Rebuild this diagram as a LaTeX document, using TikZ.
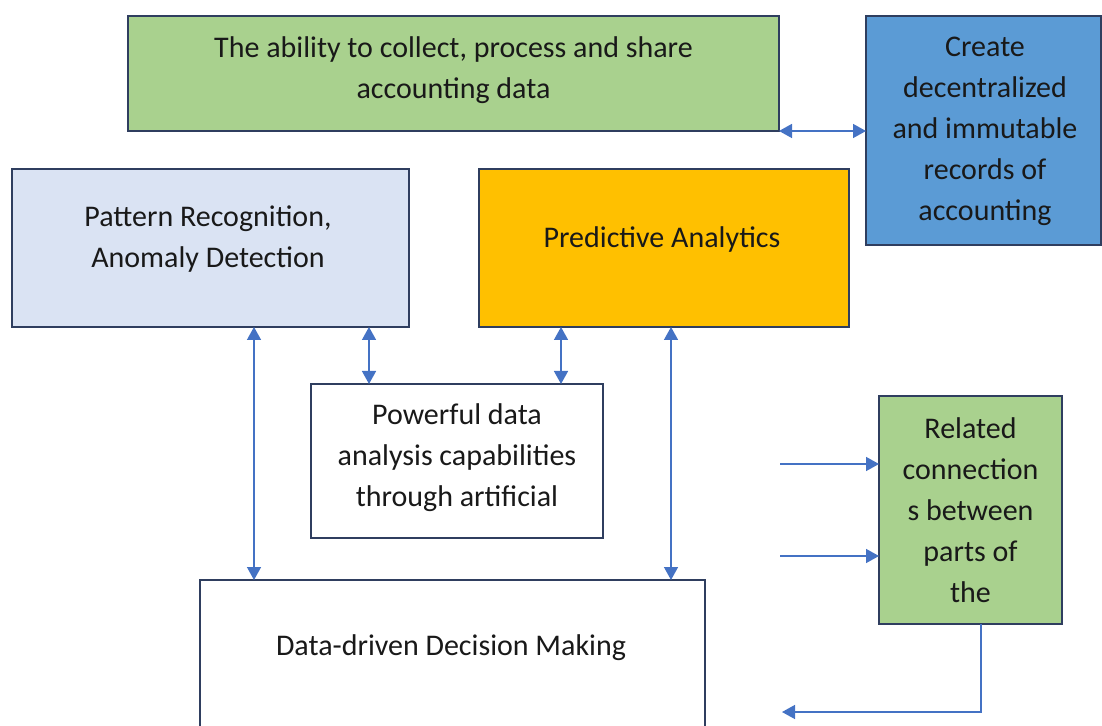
\documentclass[tikz,border=0pt]{standalone}
\usepackage{fontspec}
\setmainfont{Carlito}
\usetikzlibrary{arrows.meta, positioning}
\definecolor{BoxGreen}{HTML}{A9D18E}
\definecolor{BoxBlue}{HTML}{5B9BD5}
\definecolor{BoxPale}{HTML}{DAE3F3}
\definecolor{BoxGold}{HTML}{FFC000}
\definecolor{EdgeNavy}{RGB}{47, 62, 95}
\definecolor{LinkBlue}{HTML}{4472C4}
\tikzset{
  box/.style={draw=EdgeNavy, line width=0.75pt, inner sep=0pt, outer sep=0pt},
  txt/.style={align=center, inner sep=0pt, text=black!90, font=\fontsize{15}{20.5}\selectfont},
  link/.style={draw=LinkBlue, line width=0.75pt},
  tip/.tip={Triangle[length=6.5pt, width=7pt]},
  dbl/.style={link, tip-tip},
  one/.style={link, -tip}
}

\begin{document}
\begin{tikzpicture}[x=0.5pt, y=-0.5pt]
    \useasboundingbox (0,0) rectangle (1102,726);
    \clip (0,0) rectangle (1102,726);

    % Top row
    \node[box, fill=BoxGreen, minimum width=325.5pt, minimum height=57.5pt] (ability) at (453.5, 73.5) {};
    \node[txt] (ability-t) at (453.5, 70.5) {The ability to collect, process and share\\accounting data};

    \node[box, fill=BoxBlue, minimum width=117.5pt, minimum height=114.5pt] (create) at (983.5, 130.5) {};
    \node[txt] (create-t) at (985, 131) {Create\\decentralized\\and immutable\\records of\\accounting};

    % Middle row
    \node[box, fill=BoxPale, minimum width=198.5pt, minimum height=79pt] (pattern) at (210.5, 248) {};
    \node[txt] (pattern-t) at (208, 239) {Pattern Recognition,\\Anomaly Detection};

    \node[box, fill=BoxGold, minimum width=185pt, minimum height=79pt] (predictive) at (664, 248) {};
    \node[txt] (predictive-t) at (662, 240) {Predictive Analytics};

    \node[box, fill=white, minimum width=146pt, minimum height=77pt] (powerful) at (457, 461) {};
    \node[txt] (powerful-t) at (457, 458) {Powerful data\\analysis capabilities\\through artificial};

    % Bottom row
    \node[box, fill=white, minimum width=252.5pt, minimum height=90pt] (decision) at (452.5, 670) {};
    \node[txt] (decision-t) at (451, 648) {Data-driven Decision Making};

    \node[box, fill=BoxGreen, minimum width=91.5pt, minimum height=114pt] (related) at (970.5, 510) {};
    \node[txt] (related-t) at (970.5, 510.5) {Related\\connection\\s between\\parts of\\the};

    % Connectors
    \coordinate (left-col) at (254, 0);
    \coordinate (mid-left) at (369, 0);
    \coordinate (mid-right) at (561, 0);
    \coordinate (right-col) at (671, 0);
    \coordinate (rel-col) at (981, 0);
    \coordinate (back-end) at (782, 712);

    \draw[dbl] (ability.south east) -- (ability.south east -| create.west);
    \draw[dbl] (left-col |- pattern.south) -- (left-col |- decision.north);
    \draw[dbl] (mid-left |- pattern.south) -- (mid-left |- powerful.north);
    \draw[dbl] (mid-right |- predictive.south) -- (mid-right |- powerful.north);
    \draw[dbl] (right-col |- predictive.south) -- (right-col |- decision.north);

    \foreach \y in {464, 556} {
      \coordinate (feed) at (780, \y);
      \draw[one] (feed) -- (feed -| related.west);
    }
    \draw[one] (rel-col |- related.south) |- (back-end);
\end{tikzpicture}
\end{document}
